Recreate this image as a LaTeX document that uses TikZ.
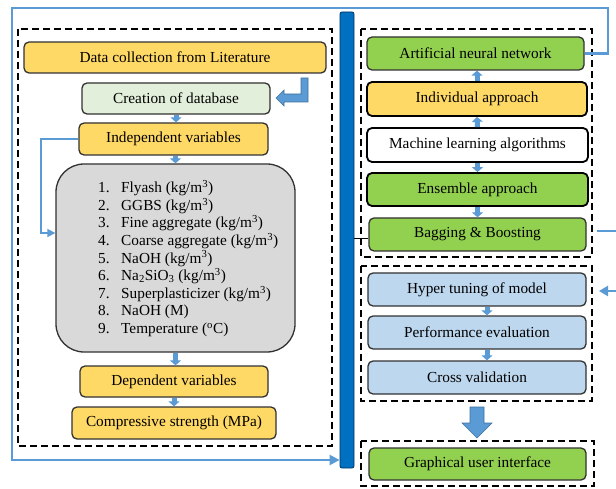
\documentclass[tikz,border=0pt]{standalone}
\usepackage{fontspec}
\setmainfont{Liberation Serif}
\usetikzlibrary{arrows.meta}
\definecolor{cyel}{RGB}{255,217,102}
\definecolor{clgreen}{RGB}{226,239,218}
\definecolor{cgreen}{RGB}{146,208,80}
\definecolor{clblue}{RGB}{189,215,238}
\definecolor{cgray}{RGB}{217,217,217}
\definecolor{lineblue}{RGB}{91,155,213}
\definecolor{arrowedge}{RGB}{65,113,156}
\definecolor{barblue}{RGB}{0,112,192}
\definecolor{bardark}{RGB}{0,50,100}
\definecolor{boxedge}{RGB}{50,50,50}
\newcommand\lnum[1]{\makebox[23pt][l]{#1}}
\begin{document}
\begin{tikzpicture}[x=1pt,y=-1pt,
  box/.style={draw=boxedge, line width=1.3pt, rounded corners=5pt, inner sep=0pt,
    font=\fontsize{15.3}{17.6}\selectfont, text=black},
  rbox/.style={box, draw=black, line width=1.8pt},
  dashbox/.style={draw=black, line width=2.4pt, dash pattern=on 7pt off 4pt},
  link/.style={draw=lineblue, line width=2.4pt},
  blk/.style={draw=lineblue, line width=5pt, -{Triangle[width=11pt,length=5pt]}},
]
\useasboundingbox (0,0) rectangle (616,489);
\fill[white] (0,0) rectangle (616,489);

% dashed frames
\draw[dashbox] (18,29) rectangle (332,446);
\draw[dashbox] (361,29) rectangle (592,257);
\draw[dashbox] (361,266) rectangle (592,401);
\draw[dashbox] (361,441) rectangle (594,486);

% left column
\node[box, fill=cyel, minimum width=302pt, minimum height=31pt] (data) at (175,57.5) {Data collection from Literature};
\node[box, fill=clgreen, minimum width=188pt, minimum height=31pt] (creat) at (176,98.5) {Creation of database};
\node[box, fill=cyel, minimum width=189pt, minimum height=32pt] (indep) at (173.5,139) {Independent variables};
\node[box, fill=cgray, rounded corners=28pt, minimum width=239pt, minimum height=188pt] (gray) at (175.5,258) {};
\node[anchor=west, align=left, inner sep=0pt, font=\fontsize{15.3}{17.6}\selectfont] (list) at (98,258.5) {%
\lnum{1.}Flyash (kg/m\textsuperscript{3})\\
\lnum{2.}GGBS (kg/m\textsuperscript{3})\\
\lnum{3.}Fine aggregate (kg/m\textsuperscript{3})\\
\lnum{4.}Coarse aggregate (kg/m\textsuperscript{3})\\
\lnum{5.}NaOH (kg/m\textsuperscript{3})\\
\lnum{6.}Na\textsubscript{2}SiO\textsubscript{3} (kg/m\textsuperscript{3})\\
\lnum{7.}Superplasticizer (kg/m\textsuperscript{3})\\
\lnum{8.}NaOH (M)\\
\lnum{9.}Temperature (\textsuperscript{o}C)};
\node[box, fill=cyel, minimum width=188pt, minimum height=31pt] (dep) at (174,381.5) {Dependent variables};
\node[box, fill=cyel, minimum width=204pt, minimum height=32pt] (comp) at (174,423) {Compressive strength (MPa)};

% right column
\node[box, fill=cgreen, minimum width=217pt, minimum height=33pt] (ann) at (475.5,53.5) {Artificial neural network};
\node[rbox, fill=cyel, minimum width=220pt, minimum height=34pt] (indiv) at (477,99) {Individual approach};
\node[rbox, fill=white, minimum width=221pt, minimum height=34pt] (mla) at (477.5,145) {Machine learning algorithms};
\node[rbox, fill=cgreen, minimum width=221pt, minimum height=33pt] (ens) at (477.5,189.5) {Ensemble approach};
\node[box, fill=cgreen, minimum width=217pt, minimum height=33pt] (bag) at (477.5,234.5) {Bagging \& Boosting};
\node[box, fill=clblue, minimum width=218pt, minimum height=33pt] (hyper) at (477,289.5) {Hyper tuning of model};
\node[box, fill=clblue, minimum width=218pt, minimum height=33pt] (perf) at (477,332.5) {Performance evaluation};
\node[box, fill=clblue, minimum width=218pt, minimum height=33pt] (cross) at (477,377.5) {Cross validation};
\node[box, fill=cgreen, minimum width=217pt, minimum height=32pt] (gui) at (477.5,464) {Graphical user interface};

% vertical bar
\node[fill=barblue, draw=bardark, line width=0.8pt, rounded corners=2pt, inner sep=0pt,
  minimum width=14pt, minimum height=456pt] (bar) at (347,240) {};

% small block arrows
\draw[blk] (creat.south) -- (creat.south |- indep.north);
\draw[blk] (gray.north |- indep.south) -- (gray.north);
\draw[blk] (gray.south) -- (gray.south |- dep.north);
\draw[blk] (dep.south) -- (comp.north);
\draw[blk] (indiv.north) -- (indiv.north |- ann.south);
\draw[blk] (mla.north) -- (indiv.south);
\draw[blk] (mla.south) -- (ens.north);
\draw[blk] (ens.south) -- (ens.south |- bag.north);
\draw[blk] ([xshift=10pt]hyper.south) -- ([xshift=10pt]perf.north);
\draw[blk] ([xshift=10pt]perf.south) -- ([xshift=10pt]cross.north);

% bent arrow beside database
\filldraw[fill=lineblue, draw=arrowedge, line width=0.6pt]
  (301,78) -- (308,78) -- (308,102) -- (284,102) -- (284,106) -- (276,98)
  -- (284,90) -- (284,94) -- (301,94) -- cycle;

% big down arrow
\filldraw[fill=lineblue, draw=arrowedge, line width=0.6pt]
  (470,407) -- (484,407) -- (484,423) -- (492,423) -- (477,438) -- (462,423) -- (470,423) -- cycle;

% outer feedback line
\coordinate (tr) at (608,8);
\coordinate (tl) at (12,8);
\coordinate (bl) at (12,460);
\draw[link, -{Triangle[width=10pt,length=10pt]}] (ann.east) -| (tr) -- (tl) -- (bl) -- (bl -| bar.west);

% side link into list
\coordinate (lk) at (41,233);
\draw[draw=lineblue, line width=1.6pt, -{Triangle[width=8pt,length=8pt]}] (indep.west) -| (lk) -- (lk -| gray.west);

% bar to bagging
\path ([yshift=-4pt]bag.west) coordinate (bagc);
\draw[black, line width=1.3pt] (bar.east |- bagc) -- (bagc);

% right-hand stubs
\coordinate (br1) at (597,231);
\coordinate (br2) at (616,231);
\draw[link] (br1) -- (br2);
\coordinate (hr1) at (616,291);
\coordinate (hr2) at (599,291);
\draw[link, -{Triangle[width=10pt,length=9pt]}] (hr1) -- (hr2);
\end{tikzpicture}
\end{document}
